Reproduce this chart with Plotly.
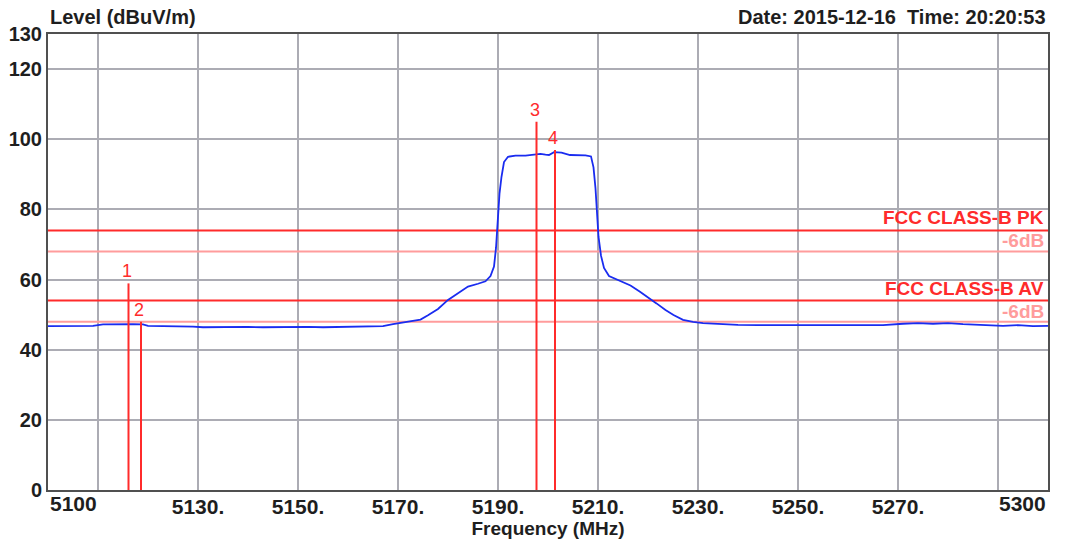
import plotly.graph_objects as go

# ---- data ----
freq = [5100, 5103, 5106, 5109, 5111, 5113, 5115, 5117, 5119, 5120, 5123, 5126, 5129,
        5131, 5134, 5137, 5140, 5143, 5146, 5149, 5152, 5155, 5158, 5161, 5164, 5167,
        5169, 5171, 5173, 5174.5, 5176, 5178, 5180, 5182, 5184, 5186, 5187.5, 5188.5,
        5189.2, 5189.6, 5190.0, 5190.3, 5190.7, 5191.2, 5192, 5193.5, 5195.5, 5197,
        5198.5, 5199.5, 5200.2, 5201.2, 5202.7, 5204.4, 5206, 5207.5, 5208.6, 5209.1,
        5209.5, 5209.8, 5210.1, 5210.6, 5211.2, 5212.2, 5213.5, 5215, 5216.5, 5218.4,
        5220, 5221.7, 5223.5, 5225.1, 5227, 5229, 5231, 5234, 5238, 5242, 5247, 5252,
        5257, 5262, 5267, 5271, 5274, 5277, 5280, 5283, 5287, 5291, 5294, 5297, 5300]
level = [46.7, 46.7, 46.6, 46.8, 47.2, 47.3, 47.2, 47.3, 47.2, 46.8, 46.7, 46.7, 46.6,
         46.4, 46.5, 46.4, 46.5, 46.4, 46.5, 46.4, 46.5, 46.4, 46.5, 46.4, 46.5, 46.7,
         47.3, 47.7, 48.1, 48.6, 49.8, 51.6, 54.2, 56.2, 58.0, 58.8, 59.5, 61.0,
         63.7, 69.0, 78.0, 84.5, 89.3, 93.5, 95.0, 95.3, 95.3, 95.6,
         95.8, 95.6, 95.5, 96.3, 96.2, 95.5, 95.5, 95.4, 95.1, 92.0,
         86.0, 79.0, 72.2, 66.8, 63.3, 61.0, 60.2, 59.4, 58.3, 56.5,
         55.0, 53.2, 51.3, 49.9, 48.5, 47.9, 47.6, 47.3, 47.1, 47.0, 47.1, 47.0,
         47.0, 47.1, 47.0, 47.4, 47.6, 47.4, 47.6, 47.3, 47.0, 46.8, 47.0, 46.7, 46.8]

marker_freq = [5116.1, 5118.6, 5197.7, 5201.4]
marker_level = [58.9, 48.0, 105.0, 96.9]
marker_labels = ["1", "2", "3", "4"]

limit_names = ["FCC CLASS-B PK", "FCC CLASS-B AV"]
limit_values = [74, 54]
margin_db = 6
margin_label = "-6dB"

x_range = [5100, 5300]
y_range = [0, 130]
x_tickvals = [5130, 5150, 5170, 5190, 5210, 5230, 5250, 5270]
x_ticktext = ["5130.", "5150.", "5170.", "5190.", "5210.", "5230.", "5250.", "5270."]
x_end_labels = ["5100", "5300"]
y_tickvals = [0, 20, 40, 60, 80, 100, 120, 130]

title_text = "Level (dBuV/m)"
date_text = "Date: 2015-12-16  Time: 20:20:53"
x_title = "Frequency (MHz)"

FONT = "Liberation Sans, Arial, sans-serif"
TXT = "#1e1e1e"
RED = "#ff2b2b"
PINK = "#ff9c9c"

fig = go.Figure()

# limit lines
for v in limit_values:
    fig.add_trace(go.Scatter(x=x_range, y=[v, v], mode="lines",
                             line=dict(color=RED, width=2), hoverinfo="skip", showlegend=False))
    fig.add_trace(go.Scatter(x=x_range, y=[v - margin_db, v - margin_db], mode="lines",
                             line=dict(color=PINK, width=2), hoverinfo="skip", showlegend=False))

# measured trace
fig.add_trace(go.Scatter(x=freq, y=level, mode="lines",
                         line=dict(color="#1a2cf0", width=1.8), showlegend=False))

# markers
for f, lv, lab in zip(marker_freq, marker_level, marker_labels):
    fig.add_trace(go.Scatter(x=[f, f], y=[0, lv], mode="lines",
                             line=dict(color=RED, width=2), showlegend=False))
    fig.add_annotation(x=f, y=lv, text=lab, showarrow=False, xref="x", yref="y",
                       yanchor="middle", yshift=12, xshift=-2,
                       font=dict(family=FONT, size=18, color=RED))

# limit labels
for name, v in zip(limit_names, limit_values):
    fig.add_annotation(x=x_range[1], y=v, text=name, showarrow=False, xref="x", yref="y",
                       xanchor="right", yanchor="bottom", xshift=-2, yshift=0,
                       font=dict(family=FONT, size=19, color=RED, weight="bold"))
    fig.add_annotation(x=x_range[1], y=v - margin_db, text=margin_label, showarrow=False,
                       xref="x", yref="y", xanchor="right", yanchor="bottom", xshift=-2, yshift=-2,
                       font=dict(family=FONT, size=19, color=PINK, weight="bold"))

# x end labels
fig.add_annotation(x=x_range[0], y=0, xref="x", yref="paper", text=x_end_labels[0],
                   showarrow=False, xanchor="left", yanchor="top", yshift=0,
                   font=dict(family=FONT, size=21, color=TXT, weight="bold"))
fig.add_annotation(x=x_range[1], y=0, xref="x", yref="paper", text=x_end_labels[1],
                   showarrow=False, xanchor="right", yanchor="top", yshift=0,
                   font=dict(family=FONT, size=21, color=TXT, weight="bold"))

# titles
fig.add_annotation(x=0, y=1, xref="paper", yref="paper", text=title_text, showarrow=False,
                   xanchor="left", yanchor="middle", yshift=17,
                   font=dict(family=FONT, size=20, color=TXT, weight="bold"))
fig.add_annotation(x=1, y=1, xref="paper", yref="paper", text=date_text, showarrow=False,
                   xanchor="right", yanchor="middle", yshift=17,
                   font=dict(family=FONT, size=20, color=TXT, weight="bold"))

GRID = "#acacb4"
fig.update_layout(
    width=1071, height=544,
    margin=dict(l=48, r=23, t=34, b=54, autoexpand=False),
    paper_bgcolor="white", plot_bgcolor="white",
    font=dict(family=FONT, color=TXT),
    xaxis=dict(range=x_range, tickmode="array", tickvals=x_tickvals, ticktext=x_ticktext,
               automargin=False, ticklabelstandoff=-3,
               showgrid=True, gridcolor=GRID, gridwidth=1.5,
               minor=dict(tick0=5110, dtick=20, showgrid=True, gridcolor=GRID, gridwidth=1.5),
               showline=True, mirror=True, linecolor="#505050", linewidth=2,
               ticks="", zeroline=False,
               tickfont=dict(family=FONT, size=21, color=TXT, weight="bold"),
               title=dict(text=x_title, standoff=2,
                          font=dict(family=FONT, size=19, color=TXT, weight="bold"))),
    yaxis=dict(range=y_range, tickmode="array", tickvals=y_tickvals, automargin=False,
               showgrid=True, gridcolor=GRID, gridwidth=1.5,
               showline=True, mirror=True, linecolor="#505050", linewidth=2,
               ticks="", zeroline=False,
               tickfont=dict(family=FONT, size=20, color=TXT, weight="bold")),
)

fig.write_html("out.html", config={"displayModeBar": False},
               post_script="document.body.style.margin='0';document.body.style.overflow='hidden';")
